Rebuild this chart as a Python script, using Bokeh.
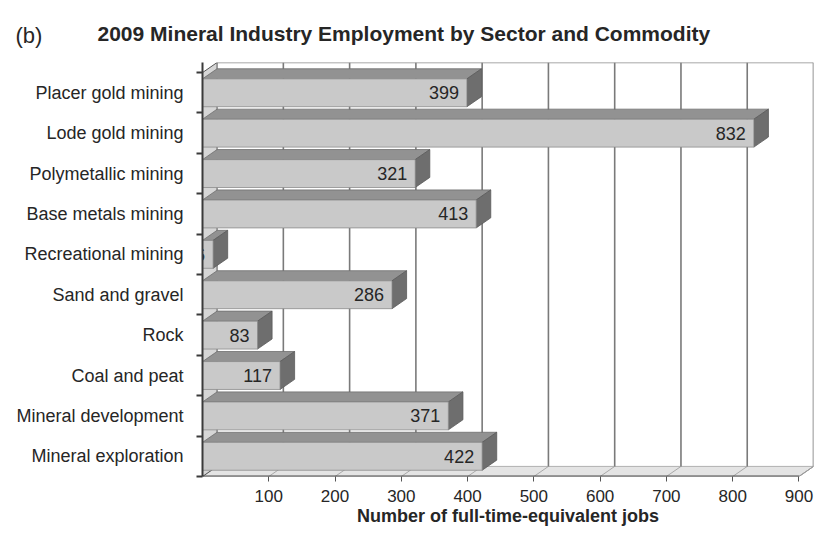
from bokeh.plotting import figure
from bokeh.models import Range1d, FixedTicker, Title
from bokeh.core.properties import value
from bokeh.embed import file_html
from bokeh.resources import INLINE

# ---- data ----
categories = ["Mineral exploration", "Mineral development", "Coal and peat", "Rock",
              "Sand and gravel", "Recreational mining", "Base metals mining",
              "Polymetallic mining", "Lode gold mining", "Placer gold mining"]
values = [422, 371, 117, 83, 286, 16, 413, 321, 832, 399]
x_ticks = [100, 200, 300, 400, 500, 600, 700, 800, 900]
title_text = "2009 Mineral Industry Employment by Sector and Commodity"
panel_tag = "(b)"
x_title = "Number of full-time-equivalent jobs"

# ---- 3D styling constants ----
DX = 22      # depth offset along x (data units)
DY = 0.25    # depth offset along y (category units)
H = 0.69     # bar thickness
XMAX = 900
FONT = "Liberation Sans"
TXT = "#262626"

n = len(categories)
idx = list(range(n))
y_front_bottom = -0.5
y_front_top = n - 0.5

p = figure(width=815, height=538,
           x_range=Range1d(0, XMAX + DX), y_range=Range1d(y_front_bottom, y_front_top + DY),
           output_backend="svg", toolbar_location=None,
           min_border_left=202, min_border_right=2, min_border_top=62, min_border_bottom=62)
p.outline_line_color = None
p.xgrid.visible = False
p.ygrid.visible = False
p.background_fill_color = "white"
p.border_fill_color = "white"

# titles: panel tag (outer) and main title (inner)
p.title.text = panel_tag
p.title.align = "left"
p.title.offset = -187
p.title.text_font = FONT
p.title.text_font_style = "normal"
p.title.text_font_size = "22px"
p.title.text_color = TXT
p.title.standoff = -92
p.add_layout(Title(text=title_text, align="left", offset=-105, text_font=FONT,
                   text_font_style="bold", text_font_size="21px", text_color=TXT,
                   standoff=36), "above")

# floor
p.patch([0, XMAX, XMAX + DX, DX], [y_front_bottom, y_front_bottom, y_front_bottom + DY, y_front_bottom + DY],
        fill_color="#e4e4e4", line_color="#b0b0b0", line_width=1)
p.segment(x0=x_ticks, y0=[y_front_bottom] * len(x_ticks),
          x1=[t + DX for t in x_ticks], y1=[y_front_bottom + DY] * len(x_ticks),
          line_color="#a8a8a8", line_width=1)

# back wall gridlines
p.segment(x0=[t + DX for t in x_ticks], y0=[y_front_bottom + DY] * len(x_ticks),
          x1=[t + DX for t in x_ticks], y1=[y_front_top + DY] * len(x_ticks),
          line_color="#7a7a7a", line_width=1.6)
p.segment(x0=[DX], y0=[y_front_top + DY], x1=[XMAX + DX], y1=[y_front_top + DY],
          line_color="#8a8a8a", line_width=1.5)

# left wall
p.patch([0, DX, DX, 0], [y_front_bottom, y_front_bottom + DY, y_front_top + DY, y_front_top],
        fill_color="#d6d6d6", line_color="#555555", line_width=1)

# bars: top face, side face, front face
top_xs = [[0, v, v + DX, DX] for v in values]
top_ys = [[i + H / 2, i + H / 2, i + H / 2 + DY, i + H / 2 + DY] for i in idx]
side_xs = [[v, v + DX, v + DX, v] for v in values]
side_ys = [[i - H / 2, i - H / 2 + DY, i + H / 2 + DY, i + H / 2] for i in idx]
p.patches(top_xs, top_ys, fill_color="#929292", line_color="#6e6e6e", line_width=0.8)
p.patches(side_xs, side_ys, fill_color="#6e6e6e", line_color="#5a5a5a", line_width=0.8)
p.quad(left=[0] * n, right=values, bottom=[i - H / 2 for i in idx], top=[i + H / 2 for i in idx],
       fill_color="#c9c9c9", line_color="#8c8c8c", line_width=0.8)

# front axis line
p.segment(x0=[0], y0=[y_front_bottom], x1=[XMAX], y1=[y_front_bottom],
          line_color="#4a4a4a", line_width=2)
p.segment(x0=[XMAX], y0=[y_front_bottom], x1=[XMAX + DX], y1=[y_front_bottom + DY],
          line_color="#9a9a9a", line_width=1)

# value labels
p.text(x=values, y=idx, text=[str(v) for v in values], x_offset=-8,
       text_align="right", text_baseline="middle",
       text_font=value(FONT), text_font_size="18px", text_color=TXT)

# axes
xa = p.xaxis[0]
xa.ticker = FixedTicker(ticks=x_ticks)
xa.axis_line_color = None
xa.major_tick_out = 5
xa.major_tick_in = 0
xa.major_tick_line_color = "#555555"
xa.minor_tick_line_color = None
xa.major_label_standoff = 8
xa.major_label_text_font = FONT
xa.major_label_text_font_size = "17px"
xa.major_label_text_color = TXT
xa.axis_label = x_title
xa.axis_label_text_font = FONT
xa.axis_label_text_font_style = "bold"
xa.axis_label_text_font_size = "18px"
xa.axis_label_text_color = TXT
xa.axis_label_standoff = 1

ya = p.yaxis[0]
ya.ticker = FixedTicker(ticks=idx, minor_ticks=[i - 0.5 for i in range(n + 1)])
ya.major_label_overrides = {i: c for i, c in zip(idx, categories)}
ya.axis_line_color = "#3a3a3a"
ya.axis_line_width = 2
ya.major_tick_line_color = None
ya.major_tick_out = 0
ya.major_tick_in = 0
ya.minor_tick_out = 6
ya.minor_tick_in = 0
ya.minor_tick_line_color = "#3a3a3a"
ya.minor_tick_line_width = 2
ya.major_label_standoff = 13
ya.major_label_text_font = FONT
ya.major_label_text_font_size = "18px"
ya.major_label_text_color = TXT

open("out.html", "w").write(file_html(p, INLINE))
